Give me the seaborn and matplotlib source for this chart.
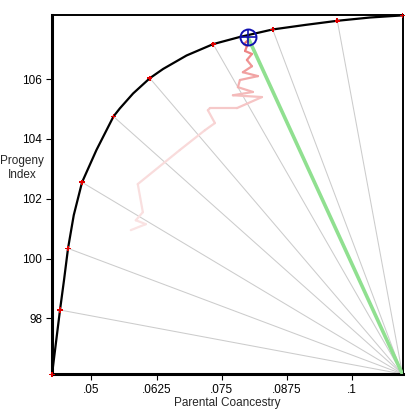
import numpy as np
import pandas as pd
import seaborn as sns
import matplotlib.pyplot as plt

# frontier points (red markers)
front_x = [0.04242, 0.04396, 0.0455, 0.04819, 0.05423, 0.06121, 0.07338, 0.08481, 0.09723, 0.10973]
front_y = [96.12, 98.28, 100.34, 102.55, 104.75, 106.03, 107.17, 107.66, 107.95, 108.13]

# frontier curve, red points plus a few extra read-off points
curve_x = [0.04242, 0.04396, 0.04473, 0.0455, 0.0466, 0.04819, 0.05096, 0.05423, 0.05545,
           0.058, 0.06121, 0.06377, 0.06827, 0.07338, 0.07852, 0.08481, 0.091, 0.09723,
           0.10352, 0.10973]
curve_y = [96.12, 98.28, 99.28, 100.34, 101.45, 102.55, 103.63, 104.75, 105.02,
           105.52, 106.03, 106.34, 106.79, 107.17, 107.41, 107.66, 107.81, 107.95,
           108.06, 108.13]

# search trace (pink)
trace_x = [0.05756, 0.06044, 0.05852, 0.05987, 0.05890, 0.06698, 0.07179, 0.07371, 0.07236,
           0.07275, 0.07794, 0.08275, 0.07717, 0.08102, 0.07813, 0.07852, 0.08198, 0.07909,
           0.08083, 0.07986, 0.08083, 0.0795, 0.07986, 0.07929, 0.08006]
trace_y = [100.95, 101.15, 101.28, 101.55, 102.49, 103.63, 104.29, 104.53, 104.96,
           105.03, 105.03, 105.40, 105.46, 105.57, 105.73, 105.97, 106.10, 106.23,
           106.43, 106.64, 106.84, 106.94, 107.10, 107.17, 107.30]

# selected solution and the corner the rays start from
sel_x, sel_y = 0.0800, 107.42
corner_x, corner_y = 0.10973, 96.14

sns.set_style("white")
plt.rcParams["font.family"] = ["Liberation Sans", "DejaVu Sans"]

fig = plt.figure(figsize=(4.11, 4.12), dpi=100)
ax = fig.add_axes([0.1265, 0.0922, 0.8535, 0.8726])

# gray rays from the corner to the frontier points
for fx, fy in zip(front_x[:-1], front_y[:-1]):
    ax.plot([corner_x, fx], [corner_y, fy], color="#cccccc", lw=0.75, zorder=1)

# pink trace, fading in towards the solution
n = len(trace_x) - 1
for i in range(n):
    t = (i / max(n - 1, 1)) ** 1.6
    col = (0.98 - 0.06 * t, 0.89 - 0.45 * t, 0.89 - 0.45 * t)
    ax.plot(trace_x[i:i + 2], trace_y[i:i + 2], color=col, lw=1.6,
            solid_capstyle="round", zorder=2)

# green ray to the chosen point
ax.plot([corner_x, sel_x], [corner_y, sel_y], color="#90e090", lw=2.6, zorder=3)

curve = pd.DataFrame({"x": curve_x, "y": curve_y})
sns.lineplot(data=curve, x="x", y="y", color="black", lw=1.6, ax=ax, zorder=4)

pts = pd.DataFrame({"x": front_x, "y": front_y})
sns.scatterplot(data=pts, x="x", y="y", color="#e00000", marker="P", s=14,
                edgecolor="none", ax=ax, zorder=5, clip_on=False)

ax.plot(sel_x, sel_y, marker="o", ms=11.5, mfc="none", mec="#1010b0", mew=1.4, zorder=6)
ax.plot(sel_x, sel_y, marker="+", ms=11.5, mec="#1010b0", mew=1.2, zorder=6)

ax.set_xlim(0.04242, 0.10980)
ax.set_ylim(96.14, 108.16)
ax.set_xticks([0.05, 0.0625, 0.075, 0.0875, 0.1])
ax.set_xticklabels([".05", ".0625", ".075", ".0875", ".1"])
ax.set_yticks([98, 100, 102, 104, 106])
ax.set_yticklabels(["98", "100", "102", "104", "106"])
ax.tick_params(axis="both", direction="out", length=4, width=0.8,
               labelsize=8.5, colors="black", pad=3)
ax.tick_params(bottom=True, left=True)

for s in ["top", "right"]:
    ax.spines[s].set_linewidth(1.4)
    ax.spines[s].set_color("black")
for s in ["left", "bottom"]:
    ax.spines[s].set_linewidth(2.2)
    ax.spines[s].set_color("black")

ax.set_xlabel("Parental Coancestry", fontsize=8.5, labelpad=1)
ax.set_ylabel("")
fig.text(22 / 411, 1 - 168 / 412, "Progeny\nIndex", ha="center", va="center",
         fontsize=8.5, linespacing=1.2)

fig.savefig("out.png", dpi=100)
